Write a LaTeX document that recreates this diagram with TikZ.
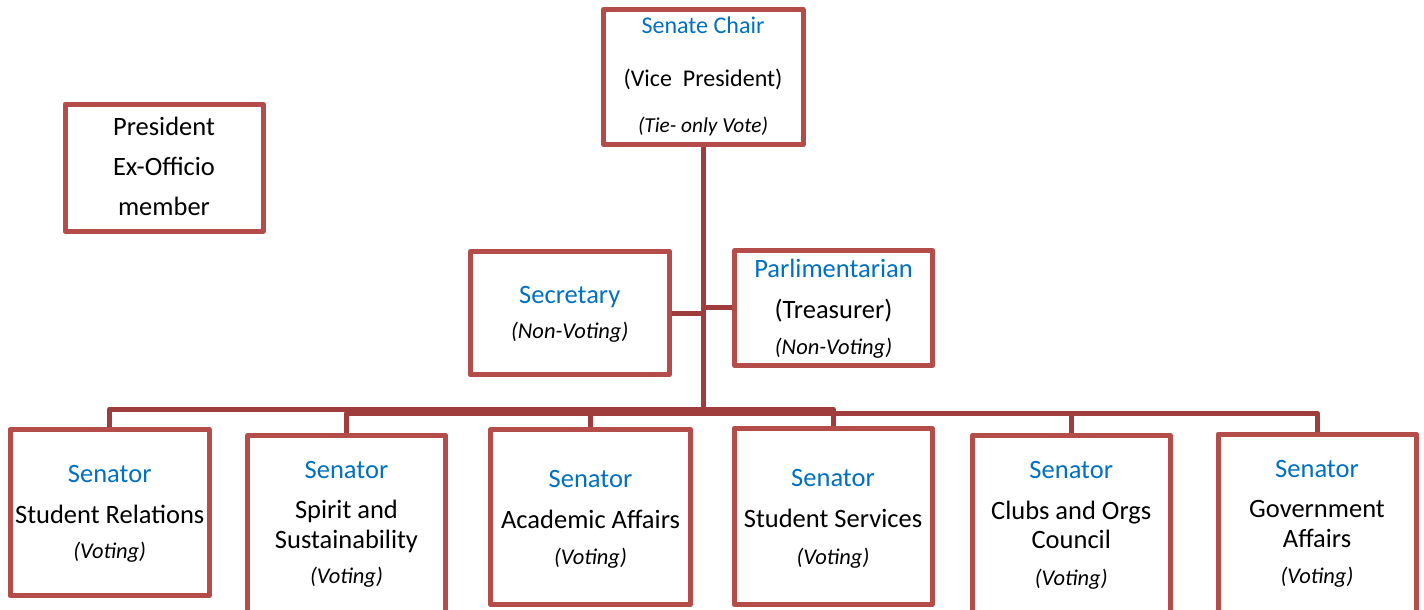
\documentclass[tikz,border=0pt]{standalone}
\usepackage{fontspec}
\setmainfont{Carlito}
\definecolor{boxred}{RGB}{180,76,74}
\definecolor{linkred}{RGB}{158,61,59}
\definecolor{headblue}{RGB}{0,112,192}
\tikzset{
  box/.style={draw=boxred, line width=5pt, line join=round, fill=white,
              inner sep=0pt, rectangle},
  conn/.style={draw=linkred, line width=5pt, line join=round},
  head/.style={text=headblue, anchor=base, inner sep=0pt,
               font=\fontsize{26.5}{30}\selectfont},
  body/.style={text=black, anchor=base, inner sep=0pt,
               font=\fontsize{26.5}{30}\selectfont},
  note/.style={text=black, anchor=base, inner sep=0pt,
               font=\fontsize{22.5}{26}\selectfont\itshape},
  chairhead/.style={head, font=\fontsize{24}{28}\selectfont},
  chairbody/.style={body, font=\fontsize{24}{28}\selectfont},
  chairnote/.style={note, font=\fontsize{21.3}{25}\selectfont\itshape},
}
\begin{document}
\begin{tikzpicture}[x=1pt,y=-1pt]
\useasboundingbox (0,0) rectangle (1424,610);
\fill[white] (0,0) rectangle (1424,610);
\clip (0,0) rectangle (1424,610);

% boxes
\node[box, minimum width=199.5pt, minimum height=135pt] (chair) at (703.25,77) {};
\node[box, minimum width=198pt, minimum height=127pt] (pres) at (164,167.5) {};
\node[box, minimum width=199.5pt, minimum height=123pt] (sec) at (569.75,313) {};
\node[box, minimum width=198pt, minimum height=115pt] (parl) at (833.5,308) {};
\node[box, minimum width=199.5pt, minimum height=166pt] (s1) at (109.75,512.5) {};
\node[box, minimum width=198pt, minimum height=178.5pt] (s2) at (346.5,524.75) {};
\node[box, minimum width=200pt, minimum height=175pt] (s3) at (590.5,517) {};
\node[box, minimum width=198pt, minimum height=176pt] (s4) at (833,516.5) {};
\node[box, minimum width=198.5pt, minimum height=178.5pt] (s5) at (1071.25,524.75) {};
\node[box, minimum width=198pt, minimum height=180pt] (s6) at (1317,524) {};

% bus levels
\coordinate (busA) at (0,409);
\coordinate (busB) at (0,413);
\coordinate (secJ) at (703,313);
\coordinate (parlJ) at (703,307);

% connectors
\draw[conn] (chair.south) -- ([yshift=2pt]chair.south |- busB);
\draw[conn] (sec.east |- secJ) -- (secJ);
\draw[conn] (parlJ) -- (parl.west |- parlJ);
\draw[conn] (s1.north) -- (s1.north |- busA) -| (s4.north);
\draw[conn] (s2.north) -- (s2.north |- busB) -| (s6.north);
\draw[conn] (s3.north) -- (s3.north |- busB);
\draw[conn] (s5.north) -- (s5.north |- busB);

% Senate Chair
\node[chairhead] (chair1) at (703,34) {Senate Chair};
\node[chairbody] (chair2) at (703,86) {(Vice\ \ President)};
\node[chairnote] (chair3) at (703,132) {(Tie- only Vote)};

% President
\node[body] (pres1) at (164,135) {President};
\node[body] (pres2) at (164,175) {Ex-Officio};
\node[body] (pres3) at (164,215) {member};

% Secretary
\node[head] (sec1) at (569.75,303) {Secretary};
\node[note] (sec2) at (569.75,338) {(Non-Voting)};

% Parliamentarian
\node[head] (parl1) at (833.5,277) {Parlimentarian};
\node[body] (parl2) at (833.5,318) {(Treasurer)};
\node[note] (parl3) at (833.5,354) {(Non-Voting)};

% Senators
\node[head] (s1a) at (109.75,482) {Senator};
\node[body] (s1b) at (109.75,523) {Student Relations};
\node[note] (s1c) at (109.75,558) {(Voting)};

\node[head] (s2a) at (346.5,478) {Senator};
\node[body] (s2b) at (346.5,518) {Spirit and};
\node[body] (s2c) at (346.5,548) {Sustainability};
\node[note] (s2d) at (346.5,583) {(Voting)};

\node[head] (s3a) at (590.5,487) {Senator};
\node[body] (s3b) at (590.5,528) {Academic Affairs};
\node[note] (s3c) at (590.5,564) {(Voting)};

\node[head] (s4a) at (833,486) {Senator};
\node[body] (s4b) at (833,527) {Student Services};
\node[note] (s4c) at (833,564) {(Voting)};

\node[head] (s5a) at (1071.25,478) {Senator};
\node[body] (s5b) at (1071.25,519) {Clubs and Orgs};
\node[body] (s5c) at (1071.25,548) {Council};
\node[note] (s5d) at (1071.25,585) {(Voting)};

\node[head] (s6a) at (1317,477) {Senator};
\node[body] (s6b) at (1317,517) {Government};
\node[body] (s6c) at (1317,547) {Affairs};
\node[note] (s6d) at (1317,583) {(Voting)};
\end{tikzpicture}
\end{document}
